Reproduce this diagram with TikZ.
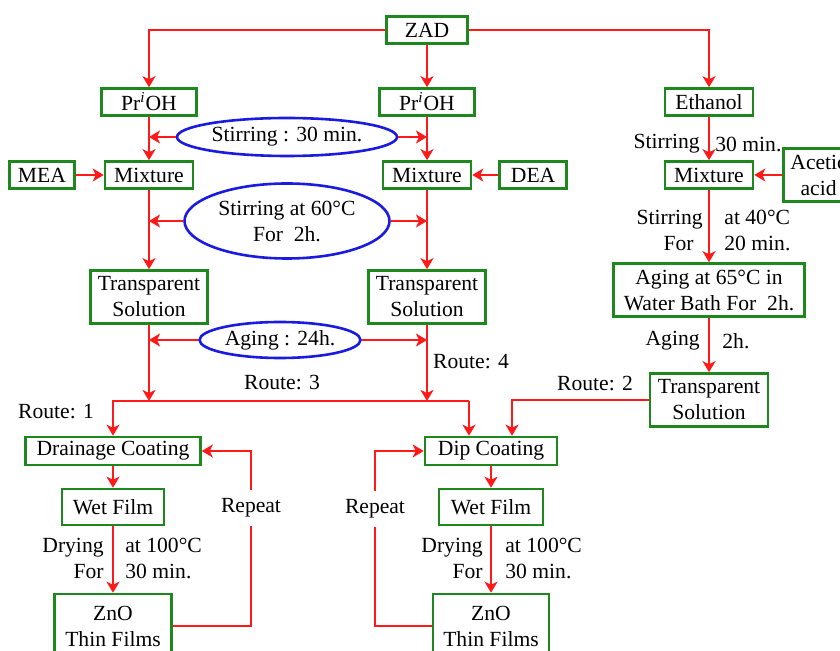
\documentclass[tikz,border=0pt]{standalone}
\usepackage{fontspec}
\setmainfont{Liberation Serif}
\usetikzlibrary{arrows.meta,positioning,shapes.geometric}
\definecolor{boxgreen}{HTML}{1E881E}
\definecolor{flowred}{HTML}{FF1A1A}
\definecolor{stirblue}{HTML}{1A1AE0}
\tikzset{
  procbox/.style={
    draw=boxgreen,
    line width=1.3pt,
    fill=white,
    align=center,
    inner sep=1pt,
    minimum height=13.5pt
  },
  tallbox/.style={
    procbox,
    minimum height=26.5pt
  },
  condition/.style={
    ellipse,
    draw=stirblue,
    line width=1.3pt,
    align=center,
    inner sep=0pt
  },
  steplabel/.style={
    inner sep=0pt,
    align=center
  },
  repeatlabel/.style={
    inner sep=4pt
  },
  flowarrow/.style={
    -{Stealth[length=5.5pt,width=6.5pt,inset=1.5pt]},
    line width=1.2pt,
    draw=flowred
  },
  flowline/.style={
    line width=1.2pt,
    draw=flowred
  }
}

\begin{document}
\begin{tikzpicture}[x=0.5pt, y=-0.5pt, font=\fontsize{10.8}{13}\selectfont]
    \fill[white] (0,0) rectangle (840,651);
    \useasboundingbox (0,0) rectangle (840,651);
    \clip (0,0) rectangle (840,651);

    % precursor and solvents
    \node[procbox, minimum width=40.5pt] (zad) at (427,30) {ZAD};
    \node[procbox, minimum width=47.5pt] (pr1) at (149,102) {Pr\textsuperscript{\textit{i}}OH};
    \node[procbox, minimum width=47.5pt] (pr2) at (427,102) {Pr\textsuperscript{\textit{i}}OH};
    \node[procbox, minimum width=44pt] (eth) at (709,102) {Ethanol};

    % mixing with stabilisers
    \node[procbox, minimum width=44pt] (mix1) at (149,175) {Mixture};
    \node[procbox, minimum width=32.5pt, left=14pt of mix1] (mea) {MEA};
    \node[procbox, minimum width=44pt] (mix2) at (427,175) {Mixture};
    \node[procbox, minimum width=33.5pt, right=13pt of mix2] (dea) {DEA};
    \node[procbox, minimum width=44pt] (mix3) at (709,175) {Mixture};
    \node[tallbox, minimum width=35pt, right=14pt of mix3] (acetic) {Acetic\\acid};

    % shared conditions
    \node[condition, minimum width=110pt, minimum height=19pt] (stir30) at (287,137) {Stirring : 30 min.};
    \node[condition, minimum width=102.5pt, minimum height=37.5pt] (stir60) at (287,221) {Stirring at 60°C\\For\ \ 2h.};
    \node[condition, minimum width=80.5pt, minimum height=18pt] (age24) at (280,340) {Aging : 24h.};

    % sols
    \node[tallbox, minimum width=58.5pt] (ts1) at (149,297) {Transparent\\Solution};
    \node[tallbox, minimum width=58.5pt] (ts2) at (427,297) {Transparent\\Solution};
    \node[tallbox, minimum width=95.5pt] (age65) at (709,290) {Aging at 65°C in\\Water Bath For\ \ 2h.};
    \node[tallbox, minimum width=59pt] (ts3) at (709,400) {Transparent\\Solution};

    % coating and films
    \node[procbox, minimum width=87.5pt, minimum height=14pt] (drain) at (113,451) {Drainage Coating};
    \node[procbox, minimum width=66pt, minimum height=14pt] (dip) at (491,451) {Dip Coating};
    \node[procbox, minimum width=51pt, minimum height=18pt] (wet1) at (113,507) {Wet Film};
    \node[procbox, minimum width=52pt, minimum height=18pt] (wet2) at (491,507) {Wet Film};
    \node[procbox, minimum width=58.5pt, minimum height=32pt] (zno1) at (113,626) {ZnO\\Thin Films};
    \node[procbox, minimum width=58pt, minimum height=32pt] (zno2) at (491,626) {ZnO\\Thin Films};

    % step labels
    \node[steplabel, anchor=east] (stirA) at (700,144) {Stirring};
    \node[steplabel, anchor=west] (stirB) at (715,144) {30 min.};
    \node[steplabel, anchor=east, align=right] (heatA) at (703,230) {Stirring\\For\hspace*{4.5pt}};
    \node[steplabel, anchor=west, align=left] (heatB) at (724,230) {at 40°C\\20 min.};
    \node[steplabel, anchor=east] (ageA) at (700,341) {Aging};
    \node[steplabel, anchor=west] (ageB) at (722,341) {2h.};
    \node[steplabel, anchor=east, align=right] (dry1A) at (104,558) {Drying\\For};
    \node[steplabel, anchor=west, align=left] (dry1B) at (125,558) {at 100°C\\30 min.};
    \node[steplabel, anchor=east, align=right] (dry2A) at (483,558) {Drying\\For};
    \node[steplabel, anchor=west, align=left] (dry2B) at (505,558) {at 100°C\\30 min.};
    \node[steplabel] (route1) at (56,412) {Route: 1};
    \node[steplabel] (route2) at (595,384) {Route: 2};
    \node[steplabel] (route3) at (282,383) {Route: 3};
    \node[steplabel] (route4) at (471,362) {Route: 4};
    \node[repeatlabel] (rep1) at (251,508) {Repeat};
    \node[repeatlabel] (rep2) at (375,509) {Repeat};

    \coordinate (split) at (469,401);

    % connectors
    \draw[flowarrow] (zad.west) -| (pr1.north);
    \draw[flowarrow] (zad.south) -- (pr2.north);
    \draw[flowarrow] (zad.east) -| (eth.north);
    \draw[flowarrow] (pr1) -- (mix1);
    \draw[flowarrow] (pr2) -- (mix2);
    \draw[flowarrow] (eth) -- (mix3);
    \draw[flowarrow] (mea) -- (mix1);
    \draw[flowarrow] (dea) -- (mix2);
    \draw[flowarrow] (acetic) -- (mix3);
    \draw[flowarrow] (stir30.west) -- (stir30.west -| mix1.north);
    \draw[flowarrow] (stir30.east) -- (stir30.east -| mix2.north);
    \draw[flowarrow] (mix1) -- (ts1);
    \draw[flowarrow] (mix2) -- (ts2);
    \draw[flowarrow] (stir60.west) -- (stir60.west -| ts1.north);
    \draw[flowarrow] (stir60.east) -- (stir60.east -| ts2.north);
    \draw[flowarrow] (mix3) -- (age65);
    \draw[flowarrow] (age65) -- (ts3);
    \draw[flowarrow] (age24.west) -- (age24.west -| ts1.south);
    \draw[flowarrow] (age24.east) -- (age24.east -| ts2.south);
    \draw[flowarrow] (ts1) -- (ts1 |- split);
    \draw[flowarrow] (ts2) -- (ts2 |- split);
    \draw[flowarrow] (split) -| (drain.north);
    \draw[flowarrow] (split) -- (split |- dip.north);
    \draw[flowarrow] (ts3.west) -| ([xshift=10.5pt]dip.north);
    \draw[flowarrow] (drain) -- (wet1);
    \draw[flowarrow] (wet1) -- (zno1);
    \draw[flowarrow] (dip) -- (wet2);
    \draw[flowarrow] (wet2) -- (zno2);
    \draw[flowline] (zno1.east) -| (rep1.south);
    \draw[flowarrow] (rep1.north) |- (drain.east);
    \draw[flowline] (zno2.west) -| (rep2.south);
    \draw[flowarrow] (rep2.north) |- (dip.west);
\end{tikzpicture}
\end{document}
